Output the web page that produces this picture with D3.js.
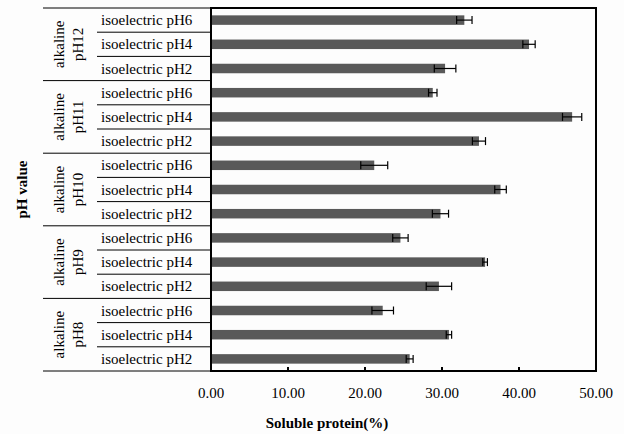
<html>
<head>
<script src="https://d3js.org/d3.v7.min.js"></script>
<style>
body { margin: 0; background: #fdfdfd; }
text { font-family: "Liberation Serif", "Times New Roman", serif; }
</style>
</head>
<body>
<script>
// groups top to bottom, each with three sub-rows
const groups = ["pH12", "pH11", "pH10", "pH9", "pH8"];
const subs = ["isoelectric pH6", "isoelectric pH4", "isoelectric pH2"];
const means = [
    32.9, 41.3, 30.4,
    28.8, 46.9, 34.8,
    21.2, 37.6, 29.8,
    24.6, 35.6, 29.6,
    22.3, 30.9, 25.8
];
const errs = [
    1.0, 0.8, 1.4,
    0.55, 1.25, 0.85,
    1.75, 0.75, 1.05,
    1.0, 0.3, 1.65,
    1.4, 0.35, 0.45
];
const xTicks = [0, 10, 20, 30, 40, 50];

let width = 624, height = 434;
let mLeft = 211, mRight = 596, mTop = 8, mBottom = 371;

let svg = d3.select("body").append("svg")
    .attr("width", width).attr("height", height);

let rows = [];
groups.forEach((g, gi) => subs.forEach((s, si) => {
    let i = gi * 3 + si;
    rows.push({id: i, group: g, sub: s, value: means[i], err: errs[i]});
}));

let x = d3.scaleLinear().domain([0, 50]).range([mLeft, mRight]);
let y = d3.scaleBand().domain(rows.map(d => d.id)).range([mTop, mBottom]);
let bh = 9.5;

// bars
svg.append("g").selectAll("rect")
    .data(rows)
    .enter().append("rect")
    .attr("x", x(0))
    .attr("y", d => y(d.id) + y.bandwidth() / 2 - bh / 2)
    .attr("width", d => x(d.value) - x(0))
    .attr("height", bh)
    .attr("fill", "#595959");

// error bars
let eb = svg.append("g").attr("stroke", "#000").attr("stroke-width", 1.2);
rows.forEach(d => {
    let cy = y(d.id) + y.bandwidth() / 2;
    eb.append("line").attr("x1", x(d.value - d.err)).attr("x2", x(d.value + d.err))
        .attr("y1", cy).attr("y2", cy);
    [d.value - d.err, d.value + d.err].forEach(v => {
        eb.append("line").attr("x1", x(v)).attr("x2", x(v))
            .attr("y1", cy - 4).attr("y2", cy + 4);
    });
});

// frame
svg.append("rect")
    .attr("x", mLeft).attr("y", mTop)
    .attr("width", mRight - mLeft).attr("height", mBottom - mTop)
    .attr("fill", "none").attr("stroke", "#000").attr("stroke-width", 2);

// x ticks (pointing inward)
svg.append("g").selectAll("line")
    .data(xTicks.slice(1, -1))
    .enter().append("line")
    .attr("x1", d => x(d)).attr("x2", d => x(d))
    .attr("y1", mBottom).attr("y2", mBottom - 4)
    .attr("stroke", "#000").attr("stroke-width", 2);

svg.append("g").selectAll("text")
    .data(xTicks)
    .enter().append("text")
    .attr("x", d => x(d)).attr("y", 398)
    .attr("text-anchor", "middle")
    .attr("font-size", "15px")
    .text(d => d.toFixed(2));

svg.append("text")
    .attr("x", 327).attr("y", 428)
    .attr("text-anchor", "middle")
    .attr("font-size", "15px").attr("font-weight", "bold")
    .text("Soluble protein(%)");

// category table
let tbl = svg.append("g").attr("stroke", "#000").attr("stroke-width", 1);
rows.forEach(d => {
    let yy = y(d.id);
    let x0 = (d.id % 3 === 0) ? 43 : 97;
    tbl.append("line").attr("x1", x0).attr("x2", mLeft)
        .attr("y1", yy).attr("y2", yy);
});
tbl.append("line").attr("x1", 43).attr("x2", mLeft)
    .attr("y1", mBottom).attr("y2", mBottom);

svg.append("g").selectAll("text")
    .data(rows)
    .enter().append("text")
    .attr("x", 101)
    .attr("y", d => y(d.id) + y.bandwidth() / 2 + 5)
    .attr("font-size", "15px")
    .text(d => d.sub);

groups.forEach((g, gi) => {
    let cy = mTop + y.bandwidth() * (gi * 3 + 1.5);
    let t = svg.append("text")
        .attr("transform", `translate(64,${cy}) rotate(-90)`)
        .attr("text-anchor", "middle")
        .attr("font-size", "15px");
    t.append("tspan").attr("x", 0).attr("dy", 0).text("alkaline");
    t.append("tspan").attr("x", 0).attr("dy", 19).text(g);
});

svg.append("text")
    .attr("transform", `translate(27,${(mTop + mBottom) / 2}) rotate(-90)`)
    .attr("text-anchor", "middle")
    .attr("font-size", "15px").attr("font-weight", "bold")
    .text("pH value");
</script>
</body>
</html>
